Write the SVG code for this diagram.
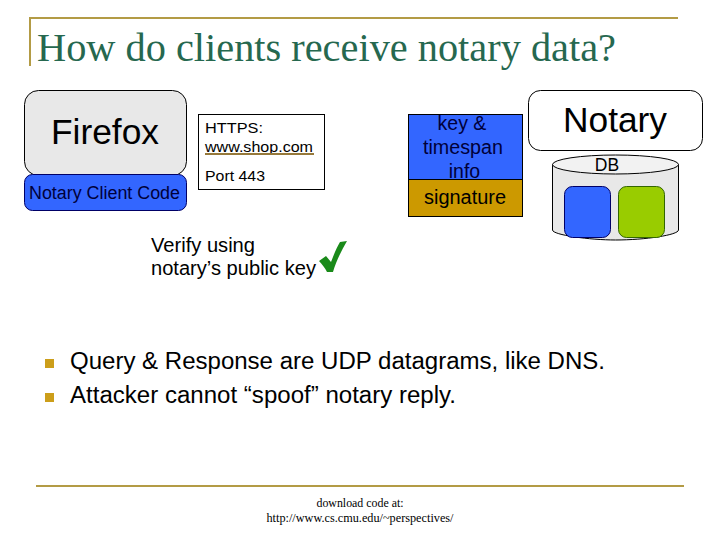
<svg xmlns="http://www.w3.org/2000/svg" width="720" height="540" viewBox="0 0 720 540">
<style>
.s{font-family:"Liberation Sans",Arial,sans-serif;fill:#000}
.t{font-family:"Liberation Serif","Times New Roman",serif}
.m{text-anchor:middle}
.o{stroke:#000;stroke-width:1}
.g{fill:#b39b45}
.n{fill:#00003a}
</style>
<rect width="720" height="540" fill="#fff"/>
<g id="frame">
<rect class="g" x="29" y="17" width="649" height="2"/>
<rect class="g" x="29" y="17" width="2" height="49"/>
<rect class="g" x="36" y="485" width="648" height="2"/>
</g>
<text class="t" x="37" y="61" font-size="40.500" fill="#26684f" textLength="579" lengthAdjust="spacingAndGlyphs">How do clients receive notary data?</text>
<g id="firefox">
<rect class="o" x="24.500" y="90.500" width="162" height="85" rx="14" fill="#e8e8e8"/>
<text class="s" x="51" y="144" font-size="35" textLength="108" lengthAdjust="spacingAndGlyphs">Firefox</text>
</g>
<g id="client-code">
<rect x="24.500" y="174.500" width="162" height="36" rx="8" fill="#3366ff" stroke="#000066"/>
<text class="s n" x="29" y="199" font-size="18" textLength="151" lengthAdjust="spacingAndGlyphs">Notary Client Code</text>
</g>
<g id="https">
<rect class="o" x="198.500" y="114.500" width="126" height="75" fill="#fff"/>
<text class="s" x="205" y="132.500" font-size="15.500" textLength="58" lengthAdjust="spacingAndGlyphs">HTTPS:</text>
<text class="s" x="205" y="152" font-size="15.500" fill="#6f6440" textLength="108" lengthAdjust="spacingAndGlyphs">www.shop.com</text>
<rect x="205" y="153" width="109" height="2" fill="#96793a"/>
<text class="s" x="205" y="181" font-size="15.500" fill="#333" textLength="60" lengthAdjust="spacingAndGlyphs">Port 443</text>
</g>
<g id="message">
<rect class="o" x="408.500" y="114.500" width="114" height="65" fill="#3366ff"/>
<rect class="o" x="408.500" y="179.500" width="114" height="37" fill="#cc9900"/>
<text class="s m n" x="462" y="130" font-size="19.500">key &amp;</text>
<text class="s m n" x="463" y="154" font-size="19.500" textLength="80" lengthAdjust="spacingAndGlyphs">timespan</text>
<text class="s m n" x="464.500" y="178" font-size="19.500">info</text>
<text class="s m" x="465" y="204" font-size="19.500" textLength="82" lengthAdjust="spacingAndGlyphs">signature</text>
</g>
<g id="notary">
<rect class="o" x="528.500" y="90.500" width="174" height="60" rx="12" fill="#fff"/>
<text class="s" x="563" y="132" font-size="35" textLength="104" lengthAdjust="spacingAndGlyphs">Notary</text>
</g>
<g id="db">
<path class="o" d="M552.500 164.500V230C552.500 235 590 240 615.500 240C645 240 678.500 235 678.500 230V164.500Z" fill="#e8e8e8"/>
<ellipse class="o" cx="615.500" cy="164.500" rx="63" ry="9.500" fill="#f2f2f2"/>
<text class="s m" x="607" y="171" font-size="17.500">DB</text>
<rect x="564.500" y="186.500" width="46" height="51" rx="8" fill="#3366ff" stroke="#000066"/>
<rect x="618.500" y="186.500" width="46" height="51" rx="8" fill="#99cc00" stroke="#336600"/>
</g>
<g id="verify">
<text class="s" x="151" y="251.500" font-size="20" textLength="104" lengthAdjust="spacingAndGlyphs">Verify using</text>
<text class="s" x="151" y="275" font-size="20" textLength="165" lengthAdjust="spacingAndGlyphs">notary’s public key</text>
<path d="M319 261L326 256L331 262C334 254 337 247 340 242L347 241C341 251 336 262 333 272L327 272C325 268 322 264 319 261Z" fill="#1a8a1a"/>
</g>
<g id="bullets">
<rect x="45" y="359" width="9" height="9" fill="#cc9e1a"/>
<rect x="45" y="393" width="9" height="9" fill="#cc9e1a"/>
<text class="s" x="70" y="368.500" font-size="23.500" textLength="535" lengthAdjust="spacingAndGlyphs">Query &amp; Response are UDP datagrams, like DNS.</text>
<text class="s" x="70" y="402.500" font-size="23.500" textLength="386" lengthAdjust="spacingAndGlyphs">Attacker cannot “spoof” notary reply.</text>
</g>
<g id="footer">
<text class="t m" x="360" y="507" font-size="12" textLength="87" lengthAdjust="spacingAndGlyphs">download code at:</text>
<text class="t m" x="360" y="522" font-size="12" textLength="187" lengthAdjust="spacingAndGlyphs">http://www.cs.cmu.edu/~perspectives/</text>
</g>
</svg>
